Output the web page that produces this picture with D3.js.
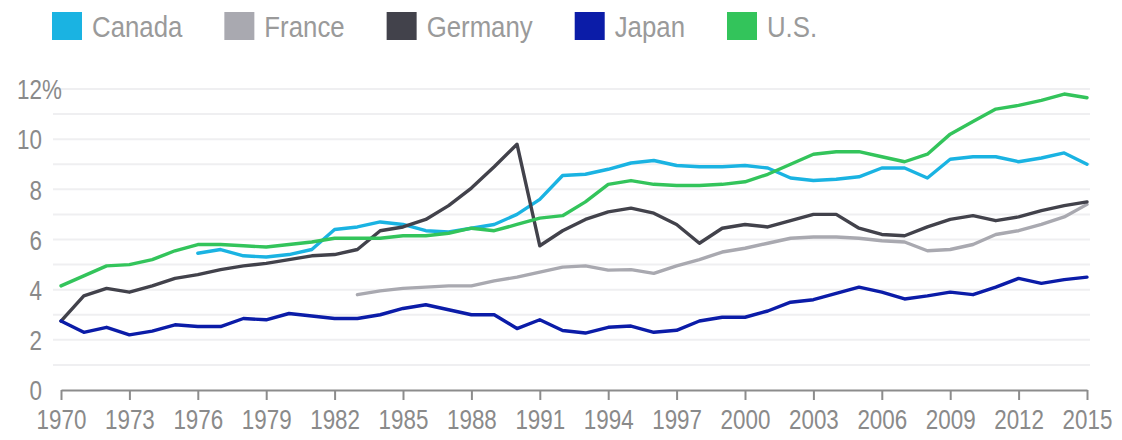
<!DOCTYPE html>
<html>
<head>
<meta charset="utf-8">
<script src="https://cdn.jsdelivr.net/npm/d3@7"></script>
<style>
  body { margin: 0; background: #fff; }
  svg text { font-family: "Liberation Sans", Arial, sans-serif; }
</style>
</head>
<body>
<svg id="chart" width="1122" height="440"></svg>
<script>
// Share of GDP, 1970–2015, by country
const years = [1970,1971,1972,1973,1974,1975,1976,1977,1978,1979,
               1980,1981,1982,1983,1984,1985,1986,1987,1988,1989,
               1990,1991,1992,1993,1994,1995,1996,1997,1998,1999,
               2000,2001,2002,2003,2004,2005,2006,2007,2008,2009,
               2010,2011,2012,2013,2014,2015];

const canada = [null,null,null,null,null,null,5.45,5.6,5.35,5.3,
                5.4,5.6,6.4,6.5,6.7,6.6,6.35,6.3,6.45,6.6,
                7.0,7.6,8.55,8.6,8.8,9.05,9.15,8.95,8.9,8.9,
                8.95,8.85,8.45,8.35,8.4,8.5,8.85,8.85,8.45,9.2,
                9.3,9.3,9.1,9.25,9.45,9.0];

const france = [null,null,null,null,null,null,null,null,null,null,
                null,null,null,3.8,3.95,4.05,4.1,4.15,4.15,4.35,
                4.5,4.7,4.9,4.95,4.78,4.8,4.65,4.95,5.2,5.5,
                5.65,5.85,6.05,6.1,6.1,6.05,5.95,5.9,5.55,5.6,
                5.8,6.2,6.35,6.6,6.9,7.4];

const germany = [2.75,3.75,4.05,3.9,4.15,4.45,4.6,4.8,4.95,5.05,
                 5.2,5.35,5.4,5.6,6.35,6.5,6.8,7.35,8.05,8.9,
                 9.8,5.75,6.35,6.8,7.1,7.25,7.05,6.6,5.85,6.45,
                 6.6,6.5,6.75,7.0,7.0,6.45,6.2,6.15,6.5,6.8,
                 6.95,6.75,6.9,7.15,7.35,7.5];

const japan = [2.75,2.3,2.5,2.2,2.35,2.6,2.53,2.53,2.85,2.8,
               3.05,2.95,2.85,2.85,3.0,3.25,3.4,3.2,3.0,3.0,
               2.45,2.8,2.37,2.27,2.5,2.55,2.3,2.38,2.75,2.9,
               2.9,3.15,3.5,3.6,3.85,4.1,3.9,3.63,3.75,3.9,
               3.8,4.1,4.45,4.25,4.4,4.5];

const us = [4.15,4.55,4.95,5.0,5.2,5.55,5.8,5.8,5.75,5.7,
            5.8,5.9,6.05,6.05,6.05,6.15,6.15,6.25,6.45,6.35,
            6.6,6.85,6.95,7.5,8.2,8.35,8.2,8.15,8.15,8.2,
            8.3,8.6,9.0,9.4,9.5,9.5,9.3,9.1,9.4,10.2,
            10.7,11.2,11.35,11.55,11.8,11.65];

const seriesNames = ["Canada", "France", "Germany", "Japan", "U.S."];
const seriesValues = [canada, france, germany, japan, us];
const seriesColors = ["#1ab3e2", "#a9a9b0", "#42424b", "#0b1ca8", "#33c45b"];

const xTickValues = [1970,1973,1976,1979,1982,1985,1988,1991,1994,1997,2000,2003,2006,2009,2012,2015];
const yTickValues = [0,2,4,6,8,10,12];
const gridValues = [1,2,3,4,5,6,7,8,9,10,11,12];

// narrow-looking labels: regular face squeezed horizontally
const SQUEEZE = "scale(0.8,1)";

const svg = d3.select("#chart");

const x = d3.scaleLinear().domain([1970, 2015]).range([61, 1087]);
const y = d3.scaleLinear().domain([0, 12]).range([390, 89]);

// horizontal grid
svg.append("g")
  .selectAll("line")
  .data(gridValues)
  .join("line")
  .attr("x1", 53).attr("x2", 1090)
  .attr("y1", d => y(d)).attr("y2", d => y(d))
  .attr("stroke", "#efeff1")
  .attr("stroke-width", 2);

// y axis labels
const yAxis = svg.append("g")
  .attr("transform", "translate(42,0)")
  .call(d3.axisLeft(y).tickValues(yTickValues).tickSize(0).tickPadding(0));
yAxis.select(".domain").remove();
yAxis.selectAll("text")
  .attr("fill", "#8a8a8a")
  .attr("font-size", 28)
  .attr("dy", "0.35em")
  .attr("transform", SQUEEZE);
// percent sign on the top label
svg.append("text")
  .attr("transform", `translate(42,${y(12)}) ${SQUEEZE}`)
  .attr("dy", "0.35em")
  .attr("font-size", 28)
  .attr("fill", "#8a8a8a")
  .text("%");

// x axis
const xAxis = svg.append("g")
  .attr("transform", `translate(0,${y(0)})`)
  .call(d3.axisBottom(x).tickValues(xTickValues).tickFormat(d3.format("d"))
        .tickSize(10).tickSizeOuter(0).tickPadding(9));
xAxis.select(".domain").attr("stroke", "#8c8c8c").attr("stroke-width", 2);
xAxis.selectAll(".tick line").attr("stroke", "#8c8c8c").attr("stroke-width", 2);
xAxis.selectAll("text")
  .attr("fill", "#8a8a8a")
  .attr("font-size", 28)
  .attr("transform", SQUEEZE);

// lines
const line = d3.line()
  .defined(d => d != null)
  .x((d, i) => x(years[i]))
  .y(d => y(d));

svg.append("g")
  .selectAll("path")
  .data(seriesValues)
  .join("path")
  .attr("fill", "none")
  .attr("stroke", (d, i) => seriesColors[i])
  .attr("stroke-width", 3.4)
  .attr("stroke-linejoin", "round")
  .attr("stroke-linecap", "round")
  .attr("d", d => line(d));

// legend
const legend = svg.append("g");
let lx = 52;
seriesNames.forEach((name, i) => {
  legend.append("rect")
    .attr("x", lx).attr("y", 12)
    .attr("width", 30).attr("height", 28)
    .attr("fill", seriesColors[i]);
  const t = legend.append("text")
    .attr("transform", `translate(${lx + 40},26) scale(0.86,1)`)
    .attr("dy", "0.35em")
    .attr("font-size", 30)
    .attr("fill", "#9a9a9a")
    .text(name);
  lx += 40 + t.node().getComputedTextLength() * 0.86 + 42;
});
</script>
</body>
</html>
